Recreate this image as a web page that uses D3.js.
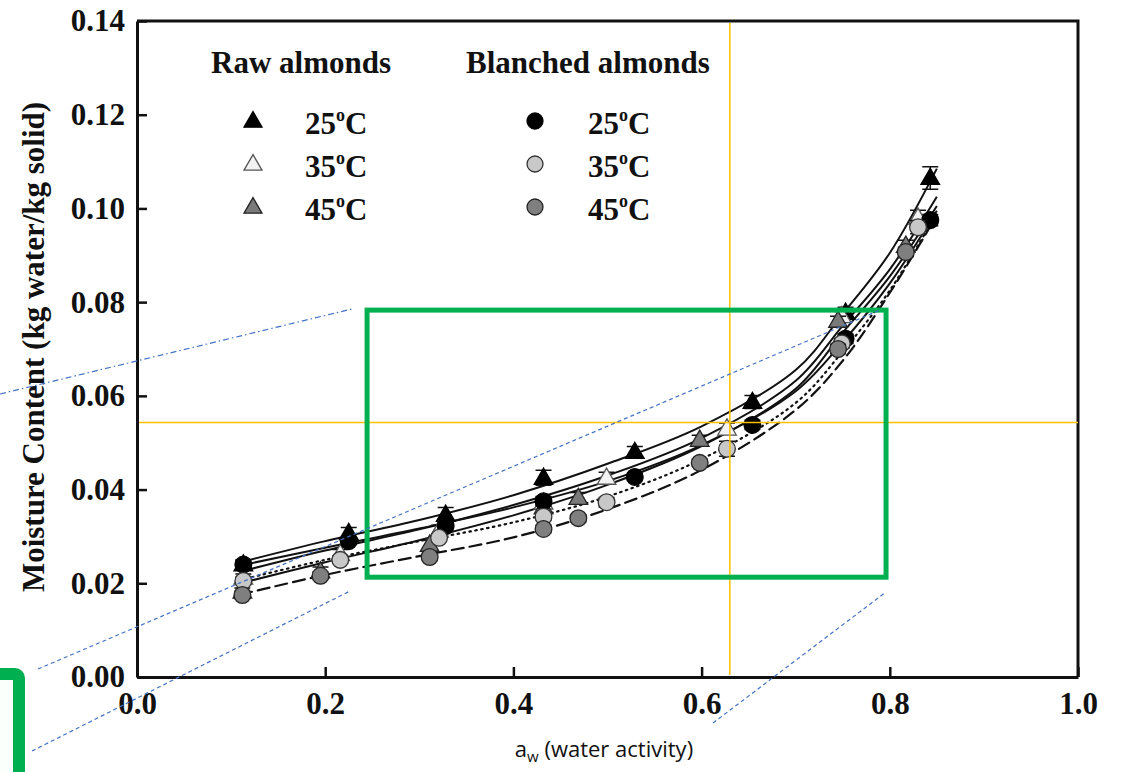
<!DOCTYPE html>
<html lang="en">
<head>
<meta charset="UTF-8">
<title>Sorption isotherms of almonds</title>
<style>
    body { margin: 0; background: #fff; }
    svg { display: block; background: #fff; }
    .serif { font-family: "Liberation Serif", "Times New Roman", serif; font-weight: bold; fill: #111; }
</style>
</head>
<body>
<script src="https://cdn.jsdelivr.net/npm/d3@7"></script>
<script>

let width = 1126
let height = 772
let margin = {left: 137, right: 48, top: 21, bottom: 95}

// water activity of the salt solutions at each temperature
let aw25 = [0.113, 0.225, 0.328, 0.432, 0.529, 0.654, 0.753, 0.843]
let aw35 = [0.113, 0.216, 0.321, 0.432, 0.499, 0.627, 0.749, 0.830]
let aw45 = [0.112, 0.195, 0.311, 0.432, 0.469, 0.598, 0.745, 0.817]

// measured moisture content (kg water / kg solid)
let raw25 = [0.0240, 0.0307, 0.0346, 0.0425, 0.0480, 0.0587, 0.0777, 0.1065]
let raw35 = [0.0212, 0.0262, 0.0312, 0.0372, 0.0425, 0.0530, 0.0770, 0.0980]
let raw45 = [0.0182, 0.0225, 0.0282, 0.0362, 0.0382, 0.0506, 0.0760, 0.0920]
let blanched25 = [0.0240, 0.0290, 0.0322, 0.0375, 0.0427, 0.0538, 0.0722, 0.0975]
let blanched35 = [0.0205, 0.0250, 0.0297, 0.0342, 0.0373, 0.0487, 0.0712, 0.0960]
let blanched45 = [0.0175, 0.0216, 0.0256, 0.0316, 0.0339, 0.0457, 0.0700, 0.0907]

// standard deviations
let errRaw25 = [0.0010, 0.0012, 0.0016, 0.0016, 0.0012, 0.0014, 0.0012, 0.0024]
let errRaw35 = [0.0008, 0.0010, 0.0012, 0.0012, 0.0012, 0.0012, 0.0010, 0.0016]
let errRaw45 = [0.0008, 0.0010, 0.0010, 0.0012, 0.0012, 0.0010, 0.0010, 0.0012]
let errBlanched25 = [0.0008, 0.0008, 0.0010, 0.0010, 0.0008, 0.0010, 0.0010, 0.0012]
let errBlanched35 = [0.0008, 0.0008, 0.0008, 0.0008, 0.0010, 0.0016, 0.0010, 0.0014]
let errBlanched45 = [0.0008, 0.0008, 0.0008, 0.0008, 0.0008, 0.0008, 0.0010, 0.0010]

// fitted model curves
let fitAw = [0.11, 0.2, 0.3, 0.4, 0.5, 0.6, 0.7, 0.75, 0.8, 0.85]
let fitRaw25 = [0.0245, 0.0290, 0.0335, 0.0388, 0.0455, 0.0535, 0.0655, 0.0775, 0.0905, 0.1085]
let fitRaw35 = [0.0225, 0.0270, 0.0315, 0.0367, 0.0430, 0.0510, 0.0632, 0.0750, 0.0870, 0.1025]
let fitRaw45 = [0.0200, 0.0245, 0.0292, 0.0345, 0.0410, 0.0493, 0.0615, 0.0735, 0.0855, 0.1005]
let fitBlanched25 = [0.0238, 0.0276, 0.0317, 0.0362, 0.0418, 0.0495, 0.0610, 0.0715, 0.0840, 0.0995]
let fitBlanched35 = [0.0207, 0.0250, 0.0290, 0.0330, 0.0385, 0.0465, 0.0585, 0.0695, 0.0825, 0.0990]
let fitBlanched45 = [0.0176, 0.0218, 0.0258, 0.0298, 0.0358, 0.0442, 0.0570, 0.0675, 0.0820, 0.0985]

let xTicks = [0.0, 0.2, 0.4, 0.6, 0.8, 1.0]
let yTicks = [0.00, 0.02, 0.04, 0.06, 0.08, 0.10, 0.12, 0.14]
let tempLabels = ["25", "35", "45"]

let series = [
    {aw: aw25, mc: raw25, err: errRaw25, shape: "triangle", fill: "#000", stroke: "#000", fit: fitRaw25, dash: null},
    {aw: aw35, mc: raw35, err: errRaw35, shape: "triangle", fill: "#f2f2f2", stroke: "#555", fit: fitRaw35, dash: null},
    {aw: aw45, mc: raw45, err: errRaw45, shape: "triangle", fill: "#7a7a7a", stroke: "#222", fit: fitRaw45, dash: null},
    {aw: aw25, mc: blanched25, err: errBlanched25, shape: "circle", fill: "#000", stroke: "#000", fit: fitBlanched25, dash: null},
    {aw: aw35, mc: blanched35, err: errBlanched35, shape: "circle", fill: "#c8c8c8", stroke: "#333", fit: fitBlanched35, dash: "1.5,4.5"},
    {aw: aw45, mc: blanched45, err: errBlanched45, shape: "circle", fill: "#7f7f7f", stroke: "#222", fit: fitBlanched45, dash: "12,6"}
]

let svg = d3.select("body").append("svg")
    .attr("width", width)
    .attr("height", height)

let x = d3.scaleLinear().domain([0, 1]).range([margin.left, width - margin.right])
let y = d3.scaleLinear().domain([0, 0.14]).range([height - margin.bottom, margin.top])

let symbolOf = shape => d3.symbol()
    .type(shape == "triangle" ? d3.symbolTriangle : d3.symbolCircle)
    .size(shape == "triangle" ? 150 : 220)

// curves
let line = d3.line()
    .x(d => x(d[0]))
    .y(d => y(d[1]))
    .curve(d3.curveCatmullRom)

series.forEach(s => {
    svg.append("path")
        .datum(fitAw.map((a, i) => [a, s.fit[i]]))
        .attr("d", line)
        .attr("fill", "none")
        .attr("stroke", "#111")
        .attr("stroke-width", s.dash ? 2.2 : 2)
        .attr("stroke-linecap", s.dash ? "round" : "butt")
        .attr("stroke-dasharray", s.dash)
})

// error bars and markers
series.forEach(s => {
    let pts = s.aw.map((a, i) => ({a: a, m: s.mc[i], e: s.err[i]}))
    let g = svg.append("g")
    g.selectAll("path.err")
        .data(pts)
        .enter()
        .append("path")
            .attr("class", "err")
            .attr("d", d => `M${x(d.a)},${y(d.m - d.e)}V${y(d.m + d.e)}M${x(d.a) - 8},${y(d.m + d.e)}H${x(d.a) + 8}M${x(d.a) - 8},${y(d.m - d.e)}H${x(d.a) + 8}`)
            .attr("stroke", "#111")
            .attr("stroke-width", 1.5)
            .attr("fill", "none")
    g.selectAll("path.mark")
        .data(pts)
        .enter()
        .append("path")
            .attr("class", "mark")
            .attr("d", symbolOf(s.shape))
            .attr("transform", d => `translate(${x(d.a)},${y(d.m) + (s.shape == "triangle" ? 1 : 0)})`)
            .attr("fill", s.fill)
            .attr("stroke", s.stroke)
            .attr("stroke-width", 1.3)
})

// axes
let yAxis = d3.axisLeft(y)
    .tickValues(yTicks)
    .tickFormat(d3.format(".2f"))
    .tickSize(-10)
    .tickSizeOuter(0)
    .tickPadding(12)
let xAxis = d3.axisBottom(x)
    .tickValues(xTicks)
    .tickFormat(d3.format(".1f"))
    .tickSize(-10)
    .tickSizeOuter(0)
    .tickPadding(15)

let gy = svg.append("g")
    .attr("transform", `translate(${margin.left},0)`)
    .call(yAxis)
let gx = svg.append("g")
    .attr("transform", `translate(0,${height - margin.bottom})`)
    .call(xAxis)

svg.selectAll(".domain").attr("stroke", "#111").attr("stroke-width", 3)
svg.selectAll(".tick line").attr("stroke", "#111").attr("stroke-width", 2.5)
svg.selectAll(".tick text")
    .attr("class", "serif")
    .attr("font-size", 31)
    .attr("fill", "#111")

// top and right frame
svg.append("path")
    .attr("d", `M${x(0)},${y(0.14)}H${x(1)}V${y(0)}`)
    .attr("fill", "none")
    .attr("stroke", "#111")
    .attr("stroke-width", 3)

svg.append("text")
    .attr("class", "serif")
    .attr("font-size", 31)
    .attr("text-anchor", "middle")
    .attr("transform", `translate(44,347) rotate(-90)`)
    .text("Moisture Content (kg water/kg solid)")

let xTitle = svg.append("text")
    .attr("x", 604)
    .attr("y", 757)
    .attr("text-anchor", "middle")
    .attr("font-family", "'Open Sans', 'Noto Sans', sans-serif")
    .attr("font-size", 22)
    .attr("fill", "#111")
xTitle.append("tspan").text("a")
xTitle.append("tspan").attr("font-size", 15).attr("dy", 5).text("w")
xTitle.append("tspan").attr("dy", -5).text(" (water activity)")

// legend
let legendCols = [
    {title: "Raw almonds", tx: 211, sx: 253, lx: 305, items: series.slice(0, 3)},
    {title: "Blanched almonds", tx: 466, sx: 535, lx: 588, items: series.slice(3, 6)}
]
let rowY = [121, 164, 207]

legendCols.forEach(col => {
    svg.append("text")
        .attr("class", "serif")
        .attr("font-size", 31)
        .attr("x", col.tx)
        .attr("y", 73)
        .text(col.title)
    col.items.forEach((s, i) => {
        svg.append("path")
            .attr("d", symbolOf(s.shape).size(s.shape == "triangle" ? 140 : 200)())
            .attr("transform", `translate(${col.sx},${rowY[i] + (s.shape == "triangle" ? 1 : 0)})`)
            .attr("fill", s.fill)
            .attr("stroke", s.stroke)
            .attr("stroke-width", 1.3)
        let t = svg.append("text")
            .attr("class", "serif")
            .attr("font-size", 31)
            .attr("x", col.lx)
            .attr("y", rowY[i] + 13)
        t.append("tspan").text(tempLabels[i])
        t.append("tspan").attr("font-size", 18).attr("dy", -13).text("o")
        t.append("tspan").attr("dy", 13).text("C")
    })
})

// annotation overlay: crosshair, zoom box and its connector lines
let cross = {aw: 0.630, mc: 0.0543}
svg.append("line")
    .attr("x1", x(cross.aw)).attr("x2", x(cross.aw))
    .attr("y1", y(0.14) + 2).attr("y2", y(0) - 2)
    .attr("stroke", "#FFC000").attr("stroke-width", 1.5)
svg.append("line")
    .attr("x1", x(0) + 2).attr("x2", x(1))
    .attr("y1", y(cross.mc)).attr("y2", y(cross.mc))
    .attr("stroke", "#FFC000").attr("stroke-width", 1.5)

let zoomBox = {aw0: 0.2445, aw1: 0.796, mc0: 0.0213, mc1: 0.0783}
svg.append("rect")
    .attr("x", x(zoomBox.aw0))
    .attr("y", y(zoomBox.mc1))
    .attr("width", x(zoomBox.aw1) - x(zoomBox.aw0))
    .attr("height", y(zoomBox.mc0) - y(zoomBox.mc1))
    .attr("fill", "none")
    .attr("stroke", "#00B050")
    .attr("stroke-width", 5)

// corner of the magnified inset, cut off by the page edge
svg.append("rect")
    .attr("x", -120).attr("y", 674)
    .attr("width", 139).attr("height", 200)
    .attr("rx", 4)
    .attr("fill", "#fbfffc")
    .attr("stroke", "#00B050")
    .attr("stroke-width", 12)

let connectors = [
    {x1: 0, y1: 394, x2: 352, y2: 309, dash: "6,3,1.5,3"},
    {x1: 38, y1: 669, x2: 880, y2: 310, dash: "4,3"},
    {x1: 32, y1: 751, x2: 350, y2: 591, dash: "4,3"},
    {x1: 713, y1: 723, x2: 886, y2: 592, dash: "4,3"}
]
svg.selectAll("line.conn")
    .data(connectors)
    .enter()
    .append("line")
        .attr("class", "conn")
        .attr("x1", d => d.x1).attr("y1", d => d.y1)
        .attr("x2", d => d.x2).attr("y2", d => d.y2)
        .attr("stroke", "#4472C4")
        .attr("stroke-width", 1.2)
        .attr("stroke-dasharray", d => d.dash)

</script>
</body>
</html>
